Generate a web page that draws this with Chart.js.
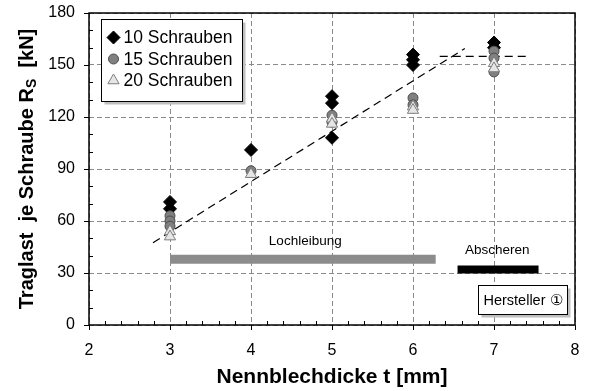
<!DOCTYPE html>
<html><head><meta charset="utf-8">
<script src="https://cdn.jsdelivr.net/npm/chart.js@4/dist/chart.umd.min.js"></script>
<style>html,body{margin:0;padding:0;background:#fff}#wrap{width:595px;height:391px;position:relative}</style>
</head><body><div id="wrap"><canvas id="c" width="595" height="391"></canvas></div>
<script>
// ---- data ----
const t10 = [3, 3, 4, 5, 5, 5, 6, 6, 6, 7, 7];
const r10 = [71, 67, 101, 132, 128, 108, 156, 153, 150, 163, 160];
const t15 = [3, 3, 3, 4, 5, 5, 6, 6, 7, 7, 7];
const r15 = [63, 60, 57, 89, 121, 117, 131, 127, 158, 154, 146];
const t20 = [3, 3, 4, 5, 5, 6, 6, 7, 7];
const r20 = [54, 51, 87, 119, 116, 126, 124, 151, 148];
const trendT = [2.79, 6.64];
const trendR = [47.5, 159.5];
const plateauT = [6.33, 7.41];
const plateauR = [155, 155];
const lochT = [3.0, 6.28];
const lochR = [38, 38];
const abschT = [6.55, 7.55];
const abschR = [32, 32];
const xTickLabels = [2, 3, 4, 5, 6, 7, 8];
const yTickLabels = [0, 30, 60, 90, 120, 150, 180];
const seriesNames = ['10 Schrauben', '15 Schrauben', '20 Schrauben'];

const pts = (xs, ys) => xs.map((x, i) => ({x: x, y: ys[i]}));
const FONT = 'Arial, "Liberation Sans", Helvetica, sans-serif';

const styles = [
  {pointStyle: 'rectRot', radius: 6.5, bg: '#000000', border: '#000000'},
  {pointStyle: 'circle', radius: 5, bg: '#808080', border: '#4d4d4d'},
  {pointStyle: 'triangle', radius: 6.5, bg: '#e6e6e6', border: '#7f7f7f'}
];

function drawMarker(ctx, st, x, y) {
  ctx.save();
  ctx.fillStyle = st.bg; ctx.strokeStyle = st.border; ctx.lineWidth = 1;
  ctx.beginPath();
  const r = st.radius;
  if (st.pointStyle === 'rectRot') {
    ctx.moveTo(x, y - r); ctx.lineTo(x + r, y); ctx.lineTo(x, y + r); ctx.lineTo(x - r, y); ctx.closePath();
  } else if (st.pointStyle === 'circle') {
    ctx.arc(x, y, r, 0, Math.PI * 2);
  } else {
    ctx.moveTo(x, y - r); ctx.lineTo(x + r * 0.866, y + r * 0.5); ctx.lineTo(x - r * 0.866, y + r * 0.5); ctx.closePath();
  }
  ctx.fill(); ctx.stroke();
  ctx.restore();
}

const overlay = {
  id: 'overlay',
  afterDraw(chart) {
    const ctx = chart.ctx, xs = chart.scales.x, ys = chart.scales.y, ca = chart.chartArea;
    ctx.save();
    // minor / major tick marks
    ctx.strokeStyle = '#000'; ctx.lineWidth = 1;
    ctx.beginPath();
    for (let v = 0; v <= 180; v += 10) {
      const py = Math.round(ys.getPixelForValue(v)) + 0.5;
      if (v % 30 === 0) { ctx.moveTo(ca.left - 5, py); ctx.lineTo(ca.left, py); }
      else { ctx.moveTo(ca.left, py); ctx.lineTo(ca.left + 4, py); }
    }
    for (let k = 0; k <= 30; k++) {
      const v = 2 + k * 0.2;
      const px = Math.round(xs.getPixelForValue(v)) + 0.5;
      if (k % 5 === 0) { ctx.moveTo(px, ca.bottom); ctx.lineTo(px, ca.bottom + 5); }
      else { ctx.moveTo(px, ca.bottom); ctx.lineTo(px, ca.bottom - 4); }
    }
    ctx.stroke();
    // frame
    ctx.lineWidth = 1.5;
    ctx.strokeRect(ca.left, ca.top, ca.right - ca.left, ca.bottom - ca.top);

    // bar labels
    ctx.fillStyle = '#000';
    ctx.font = '13.5px ' + FONT;
    ctx.textAlign = 'center'; ctx.textBaseline = 'middle';
    ctx.fillText('Lochleibung', xs.getPixelForValue(4.67), ys.getPixelForValue(48.5));
    ctx.fillText('Abscheren', xs.getPixelForValue(7.04), ys.getPixelForValue(43.3));

    // Hersteller box
    const hx = Math.round(xs.getPixelForValue(6.8)) + 0.5, hy = Math.round(ys.getPixelForValue(23)) + 0.5;
    const hw = 89, hh = 29;
    ctx.fillStyle = '#bfbfbf';
    ctx.fillRect(hx + 3, hy + 3, hw, hh);
    ctx.fillStyle = '#fff';
    ctx.fillRect(hx, hy, hw, hh);
    ctx.strokeStyle = '#000'; ctx.lineWidth = 1;
    ctx.strokeRect(hx, hy, hw, hh);
    ctx.fillStyle = '#000';
    ctx.font = '14.5px ' + FONT;
    ctx.fillText('Hersteller \u2460', hx + hw / 2, hy + hh / 2 + 1);

    // legend
    const lx = ca.left + 12.5, ly = ca.top + 6.5, lw = 141, lh = 82;
    ctx.fillStyle = '#bfbfbf';
    ctx.fillRect(lx + 3, ly + 3, lw, lh);
    ctx.fillStyle = '#fff';
    ctx.fillRect(lx, ly, lw, lh);
    ctx.strokeStyle = '#000'; ctx.lineWidth = 1;
    ctx.strokeRect(lx, ly, lw, lh);
    ctx.font = '17.5px ' + FONT;
    ctx.textAlign = 'left'; ctx.textBaseline = 'middle';
    for (let i = 0; i < 3; i++) {
      const yy = ly + 18 + i * 21.5;
      drawMarker(ctx, styles[i], lx + 12, yy);
      ctx.fillStyle = '#000';
      ctx.fillText(seriesNames[i], lx + 22, yy + 1);
    }

    // axis titles
    ctx.font = 'bold 21px ' + FONT;
    ctx.textAlign = 'center'; ctx.textBaseline = 'middle';
    ctx.fillText('Nennblechdicke t [mm]', (ca.left + ca.right) / 2, 377);
    ctx.save();
    ctx.translate(27, (ca.top + ca.bottom) / 2);
    ctx.rotate(-Math.PI / 2);
    const p1 = 'Traglast  je Schraube R', sub = 'S', p2 = '  [kN]';
    ctx.font = 'bold 20px ' + FONT; const w1 = ctx.measureText(p1).width, w3 = ctx.measureText(p2).width;
    ctx.font = 'bold 14px ' + FONT; const w2 = ctx.measureText(sub).width;
    let x0 = -(w1 + w2 + w3) / 2;
    ctx.textAlign = 'left';
    ctx.font = 'bold 20px ' + FONT; ctx.fillText(p1, x0, 0);
    ctx.font = 'bold 14px ' + FONT; ctx.fillText(sub, x0 + w1, 5);
    ctx.font = 'bold 20px ' + FONT; ctx.fillText(p2, x0 + w1 + w2, 0);
    ctx.restore();
    ctx.restore();
  }
};

const lineDs = (xs, ys, extra) => Object.assign({
  type: 'line', data: pts(xs, ys), showLine: true, pointRadius: 0, pointHoverRadius: 0,
  fill: false, borderColor: '#000', borderWidth: 1.2, order: 10
}, extra);

new Chart(document.getElementById('c'), {
  type: 'scatter',
  data: {
    datasets: [
      lineDs(lochT, lochR, {borderColor: '#8c8c8c', borderWidth: 9, borderCapStyle: 'butt', order: 12}),
      lineDs(abschT, abschR, {borderColor: '#000', borderWidth: 8, borderCapStyle: 'butt', order: 12}),
      lineDs(trendT, trendR, {borderDash: [8, 5]}),
      lineDs(plateauT, plateauR, {borderDash: [8, 5]}),
      {label: seriesNames[0], data: pts(t10, r10), pointStyle: 'rectRot', pointRadius: 6.5, backgroundColor: '#000', borderColor: '#000', borderWidth: 1, order: 3},
      {label: seriesNames[1], data: pts(t15, r15), pointStyle: 'circle', pointRadius: 5, backgroundColor: '#808080', borderColor: '#4d4d4d', borderWidth: 1, order: 2},
      {label: seriesNames[2], data: pts(t20, r20), pointStyle: 'triangle', pointRadius: 6.5, backgroundColor: '#e6e6e6', borderColor: '#7f7f7f', borderWidth: 1, order: 1}
    ]
  },
  options: {
    responsive: false, animation: false, devicePixelRatio: 1,
    layout: {padding: {top: 13, right: 20, left: 0, bottom: 0}},
    plugins: {legend: {display: false}, tooltip: {enabled: false}},
    scales: {
      x: {
        type: 'linear', min: 2, max: 8,
        afterFit: s => { s.height = 66; s.paddingLeft = 0; s.paddingRight = 0; },
        afterBuildTicks: s => { s.ticks = xTickLabels.map(v => ({value: v})); },
        ticks: {color: '#000', font: {family: FONT, size: 16}, padding: 16, maxRotation: 0},
        grid: {color: '#8a8a8a', lineWidth: 1, drawTicks: false},
        border: {display: false, dash: [5, 3]}
      },
      y: {
        type: 'linear', min: 0, max: 180,
        afterFit: s => { s.width = 89; s.paddingTop = 0; s.paddingBottom = 0; },
        afterBuildTicks: s => { s.ticks = yTickLabels.map(v => ({value: v})); },
        ticks: {color: '#000', font: {family: FONT, size: 16}, padding: 14},
        grid: {color: '#8a8a8a', lineWidth: 1, drawTicks: false},
        border: {display: false, dash: [5, 3]}
      }
    }
  },
  plugins: [overlay]
});
</script></body></html>
